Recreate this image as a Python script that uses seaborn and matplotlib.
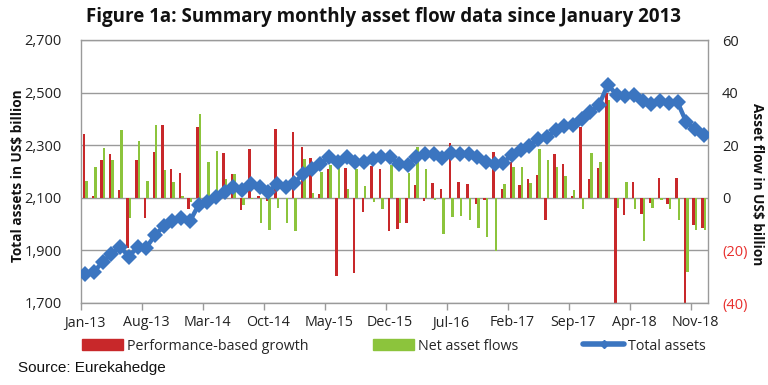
import matplotlib
matplotlib.use("Agg")
import matplotlib.pyplot as plt
import seaborn as sns
import pandas as pd
import numpy as np
from matplotlib.lines import Line2D
from matplotlib.patches import Patch

# ---------------- data ----------------
months = pd.date_range("2013-01-01", periods=72, freq="MS").strftime("%b-%y").tolist()

perf = [24.3, 0.6, 14.2, 16.6, 3.0, -19.2, 14.2, -7.6, 17.5, 27.5, 11.1, 9.4,
        -4.2, 27.1, 0.0, 0.0, 17.2, 9.1, -4.8, 18.7, 0.5, -1.1, 26.0, 0.0,
        25.2, 19.5, 15.2, 1.3, 10.9, -29.6, 11.5, -28.5, -5.3, 12.0, 10.8, -12.8,
        -11.9, -9.7, 4.8, -1.1, 5.8, 3.3, 21.0, 6.1, 5.4, -2.4, -0.9, 17.3,
        3.5, 13.7, 4.9, 7.1, 8.6, -8.4, 16.6, 12.8, 0.8, 27.1, 7.1, 11.3,
        40.0, -42.0, -6.6, 6.1, -6.3, -2.0, 7.7, -2.4, 7.7, -42.0, -10.3, -11.5]

flows = [6.3, 11.8, 19.1, 14.2, 25.6, -7.8, 21.6, 6.3, 27.5, 10.5, 6.1, 0.8,
         -1.5, 31.9, 13.7, 17.8, 7.3, 9.1, -2.8, -0.5, -9.5, -12.2, -3.7, -9.4,
         -12.5, 14.9, 2.0, 9.9, 12.4, 11.3, 3.3, 11.1, 4.3, -1.5, -4.1, 12.3,
         -9.4, 9.5, 19.4, 11.1, -0.9, -13.9, -7.2, -6.8, -8.4, -11.6, -14.9, -20.3,
         5.2, 11.9, 11.9, 5.6, 18.5, 14.3, 11.9, 8.2, 2.9, -4.3, 17.2, 13.7,
         37.2, -3.7, 6.1, -4.3, -16.5, -3.9, -0.9, -4.1, -8.4, -28.4, -12.3, -12.3]

assets = [1809, 1819, 1857, 1886, 1914, 1876, 1914, 1911, 1958, 1992, 2011, 2022,
          2011, 2072, 2085, 2104, 2123, 2142, 2129, 2152, 2142, 2123, 2152, 2140,
          2156, 2192, 2211, 2230, 2256, 2237, 2256, 2237, 2237, 2249, 2256, 2256,
          2230, 2224, 2256, 2265, 2268, 2252, 2272, 2268, 2265, 2256, 2237, 2227,
          2234, 2264, 2283, 2297, 2322, 2331, 2357, 2373, 2378, 2401, 2426, 2454,
          2530, 2492, 2486, 2492, 2468, 2458, 2468, 2460, 2464, 2388, 2363, 2340]

tick_labels = ["Jan-13", "Aug-13", "Mar-14", "Oct-14", "May-15", "Dec-15",
               "Jul-16", "Feb-17", "Sep-17", "Apr-18", "Nov-18"]
left_ticks = [1700, 1900, 2100, 2300, 2500, 2700]
left_labels = ["1,700", "1,900", "2,100", "2,300", "2,500", "2,700"]
right_ticks = [-40, -20, 0, 20, 40, 60]
right_labels = ["(40)", "(20)", "0", "20", "40", "60"]

series_names = ["Performance-based growth", "Net asset flows", "Total assets"]

RED = "#c8282a"
GREEN = "#8cc43c"
BLUE = "#3b75c0"
GRID = "#9a9a9a"

# ---------------- figure ----------------
sns.set_theme(style="white")
plt.rcParams["font.family"] = ["Open Sans", "DejaVu Sans"]

fig = plt.figure(figsize=(7.68, 3.85), dpi=100)
ax = fig.add_axes([81 / 768, 1 - 303 / 385, 627 / 768, 263 / 385])
ax2 = ax.twinx()

df = pd.DataFrame({
    "month": months * 2,
    "value": perf + flows,
    "series": [series_names[0]] * 72 + [series_names[1]] * 72,
})
sns.barplot(data=df, x="month", y="value", hue="series", order=months,
            hue_order=series_names[:2], palette=[RED, GREEN], saturation=1,
            width=0.56, dodge=True, errorbar=None, legend=False, ax=ax,
            linewidth=0, edgecolor="none")

sns.lineplot(x=np.arange(72), y=assets, ax=ax2, color=BLUE, lw=3.2,
             marker="D", markersize=8.5, markeredgewidth=0)

# right axis (bars)
ax.set_ylim(-40, 60)
ax.set_xlim(-0.5, 71.5)
ax.yaxis.tick_right()
ax.yaxis.set_label_position("right")
ax.set_yticks(right_ticks)
ax.set_yticklabels(right_labels, fontsize=10.5)
for lab, v in zip(ax.get_yticklabels(), right_ticks):
    lab.set_color("#e8302e" if v < 0 else "#222222")
ax.tick_params(axis="y", length=0, pad=10, left=False, labelleft=False,
               right=False, labelright=True)
ax.set_ylabel("")
ax.set_xlabel("")
ax.grid(axis="y", color=GRID, lw=1)
ax.set_axisbelow(True)

# x ticks
ax.set_xticks(np.arange(0, 72, 7))
ax.set_xticklabels(tick_labels, fontsize=10.3, color="#222222")
ax.set_xticks(np.arange(-0.5, 72, 7), minor=True)
ax.tick_params(axis="x", which="major", length=0, pad=9)
ax.tick_params(axis="x", which="minor", length=5, width=1, color=GRID,
               direction="out", bottom=True)

for s in ax.spines.values():
    s.set_color(GRID)
    s.set_linewidth(1)

# left axis (line)
ax2.set_ylim(1700, 2700)
ax2.yaxis.tick_left()
ax2.set_yticks(left_ticks)
ax2.set_yticklabels(left_labels, fontsize=10.5, color="#222222")
ax2.tick_params(axis="y", length=0, pad=14, right=False, labelright=False,
                left=False, labelleft=True)
ax2.set_ylabel("")
for s in ax2.spines.values():
    s.set_visible(False)
ax.set_xlim(-0.5, 71.5)

# titles / labels
fig.text(0.5, 1 - 17 / 385, "Figure 1a: Summary monthly asset flow data since January 2013",
         ha="center", va="center", fontsize=13.5, weight="bold", color="#111111")
fig.text(18 / 768, 1 - 176 / 385, "Total assets in US$ billion", rotation=90,
         ha="center", va="center", fontsize=9.8, weight="bold", color="#111111")
fig.text(757 / 768, 1 - 184 / 385, "Asset flow in US$ billion", rotation=-90,
         ha="center", va="center", fontsize=9.8, weight="bold", color="#111111")
fig.text(18 / 768, 1 - 368 / 385, "Source: Eurekahedge", ha="left", va="center",
         fontsize=11, family=["Liberation Sans", "DejaVu Sans"], color="#111111")

# legend
ly = 1 - 346 / 385
handles = [Patch(color=RED), Patch(color=GREEN),
           Line2D([], [], color=BLUE, lw=4, marker="D", markersize=4)]
for h, lab, x0 in zip(handles, series_names, [82, 373, 583]):
    fig.legend(handles=[h], labels=[lab], loc="center left",
               bbox_to_anchor=(x0 / 768, ly), frameon=False, fontsize=10.3,
               handlelength=2.9, handletextpad=0.25, borderpad=0, borderaxespad=0)

fig.savefig("out.png", dpi=100)
